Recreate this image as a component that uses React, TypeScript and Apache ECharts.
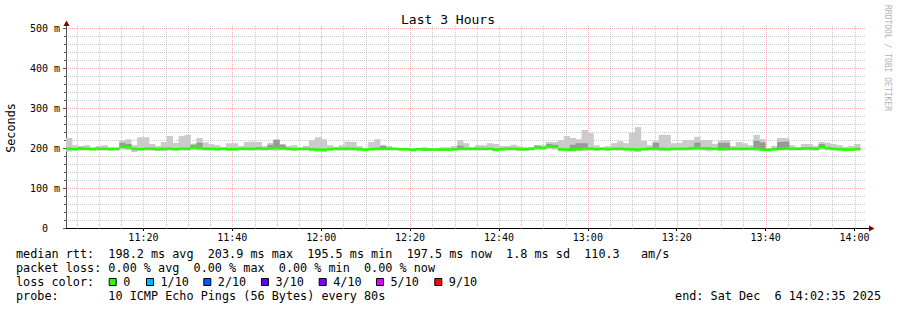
import React, { useEffect, useRef } from "react";
import * as echarts from "echarts";

const TITLE = "Last 3 Hours";
const Y_NAME = "Seconds";
const WATERMARK = "RRDTOOL / TOBI OETIKER";
const START_TIME = "11:02:35";
const SPAN_SEC = 3 * 3600;
const STEP_SEC = 80;
const X_LABELS = ["11:20", "11:40", "12:00", "12:20", "12:40", "13:00", "13:20", "13:40", "14:00"];
const X_MINOR = [
  "11:05", "11:10", "11:15", "11:25", "11:30", "11:35", "11:45", "11:50", "11:55",
  "12:05", "12:10", "12:15", "12:25", "12:30", "12:35", "12:45", "12:50", "12:55",
  "13:05", "13:10", "13:15", "13:25", "13:30", "13:35", "13:45", "13:50", "13:55",
];
const Y_MAX = 500;
const Y_STEP = 100;

// median RTT per 80 s step (ms)
const MEDIAN_MS = [
  198, 197, 198, 198, 197, 198, 198, 197, 198, 203,
  202, 198, 197, 198, 198, 197, 198, 198, 197, 198,
  198, 201, 200, 198, 198, 197, 198, 197, 197, 198,
  198, 198, 199, 198, 199, 200, 199, 198, 197, 198,
  198, 197, 196, 195.5, 197, 198, 198, 198, 198, 197,
  196, 197, 198, 198, 198, 198, 197, 197, 195.5, 197,
  196, 196, 196, 196, 196, 197, 198, 198, 198, 198,
  198, 198, 196, 197, 198, 198, 197, 197, 198, 201,
  200, 203.9, 203, 197, 196, 196, 197, 199, 198, 197,
  198, 197, 198, 198, 197, 197, 196, 197, 198, 199,
  198, 197, 198, 198, 198, 199, 200, 199, 199, 198,
  197, 198, 198, 198, 198, 198, 199, 196, 195.5, 197,
  198, 199, 198, 198, 199, 199, 198, 202, 200, 198,
  197, 196, 196, 197.5,
];
// lowest ping per step (ms)
const MIN_MS = [
  191, 194, 194, 194, 194, 194, 194, 194, 194, 196,
  195, 190, 194, 194, 194, 193, 192, 194, 194, 194,
  194, 196, 194, 194, 194, 194, 194, 193, 193, 194,
  194, 194, 194, 194, 194, 193, 194, 194, 194, 194,
  194, 192, 191, 190, 194, 194, 194, 194, 194, 193,
  192, 194, 194, 194, 194, 194, 194, 194, 191, 194,
  193, 193, 193, 193, 193, 194, 194, 194, 194, 194,
  194, 194, 191, 194, 194, 194, 193, 193, 194, 196,
  196, 197, 196, 192, 191, 191, 192, 192, 194, 194,
  194, 194, 194, 194, 194, 191, 190, 194, 194, 193,
  192, 192, 194, 194, 194, 194, 194, 194, 192, 194,
  193, 193, 194, 194, 194, 194, 192, 192, 192, 194,
  194, 194, 194, 194, 194, 194, 194, 196, 194, 194,
  194, 193, 193, 194,
];
// highest ping per step (ms)
const MAX_MS = [
  225, 207, 205, 207, 202, 205, 207, 202, 200, 219,
  222, 207, 227, 227, 210, 205, 215, 230, 213, 230,
  233, 211, 225, 214, 210, 207, 202, 212, 212, 205,
  215, 216, 215, 205, 213, 222, 210, 205, 207, 200,
  205, 220, 227, 222, 207, 203, 207, 216, 215, 205,
  200, 215, 222, 208, 205, 200, 200, 200, 200, 200,
  202, 200, 200, 202, 202, 205, 220, 212, 202, 207,
  207, 212, 210, 205, 205, 208, 205, 202, 202, 207,
  207, 215, 215, 220, 230, 225, 222, 245, 237, 207,
  202, 205, 212, 217, 212, 238, 252, 218, 207, 217,
  233, 233, 212, 213, 220, 220, 228, 220, 220, 210,
  218, 220, 205, 215, 212, 207, 233, 222, 200, 205,
  225, 225, 207, 202, 210, 210, 205, 215, 213, 210,
  207, 203, 205, 210,
];
// steps with a denser (darker) inner smoke band, and its top (ms)
const INNER_STEPS = [2, 9, 10, 21, 22, 34, 35, 36, 53, 66, 79, 81, 82, 85, 86, 87, 99, 106, 110, 111, 116, 117, 120, 121, 127];
const INNER_TOP_MS = [202, 213, 210, 208, 213, 208, 220, 208, 205, 206, 206, 210, 208, 208, 212, 212, 213, 214, 213, 213, 218, 214, 215, 216, 210];

const STATS_LINES = [
  "median rtt:  198.2 ms avg  203.9 ms max  195.5 ms min  197.5 ms now  1.8 ms sd  110.3   am/s",
  "packet loss: 0.00 % avg  0.00 % max  0.00 % min  0.00 % now",
];
const LOSS_TITLE = "loss color:";
const LOSS_LABELS = ["0", "1/10", "2/10", "3/10", "4/10", "5/10", "9/10"];
const LOSS_COLORS = ["#26ff00", "#00b8ff", "#0059ff", "#5e00ff", "#7e00ff", "#dd00ff", "#ff0000"];
const LOSS_BOX_X = [108.7, 146, 203.3, 261, 318.7, 376, 434.3];
const PROBE_LINE = "probe:       10 ICMP Echo Pings (56 Bytes) every 80s";
const END_LINE = "end: Sat Dec  6 14:02:35 2025";

const MONO = "'DejaVu Sans Mono', monospace";

function toSec(s: string) {
  const p = s.split(":").map(Number);
  return p[0] * 3600 + p[1] * 60 + (p[2] || 0);
}
function fmtTime(v: number) {
  const h = Math.floor(v / 3600);
  const m = Math.round((v - h * 3600) / 60);
  return `${h}:${String(m).padStart(2, "0")}`;
}

const MINOR_COLOR = "rgba(150,150,150,0.5)";
const MAJOR_COLOR = "rgba(235,100,100,0.5)";

export default function App() {
  const ref = useRef<HTMLDivElement>(null);
  useEffect(() => {
    if (!ref.current) return;
    const chart = echarts.init(ref.current, undefined, { renderer: "svg" });
    const start = toSec(START_TIME);
    const end = start + SPAN_SEC;

    const outerData = MAX_MS.map((hi, i) => [start + i * STEP_SEC, MIN_MS[i], hi]);
    const innerData = INNER_STEPS.map((s, k) => [start + s * STEP_SEC, MEDIAN_MS[s], INNER_TOP_MS[k]]);
    const medData = MEDIAN_MS.map((m, i) => [start + i * STEP_SEC, m]);

    const bandRender = (color: string) => (params: any, api: any) => {
      const t = api.value(0);
      const a = api.coord([t, api.value(2)]);
      const b = api.coord([t + STEP_SEC, api.value(1)]);
      return {
        type: "rect",
        shape: { x: a[0], y: a[1], width: b[0] - a[0] + 0.4, height: b[1] - a[1] },
        style: { fill: color },
      };
    };
    const medRender = (params: any, api: any) => {
      const t = api.value(0);
      const a = api.coord([t, api.value(1)]);
      const b = api.coord([t + STEP_SEC, api.value(1)]);
      return {
        type: "rect",
        shape: { x: a[0], y: a[1] - 1.3, width: b[0] - a[0] + 0.4, height: 2.6 },
        style: { fill: LOSS_COLORS[0] },
      };
    };
    // vertical dotted grid line: a column of 1px dots between the two y values
    const vGridRender = (color: string) => (params: any, api: any) => {
      const t = api.value(0);
      const top = api.coord([t, api.value(2)]);
      const bot = api.coord([t, api.value(1)]);
      const x = Math.round(top[0]);
      const children: any[] = [];
      for (let y = Math.round(top[1]) - 2; y < Math.round(bot[1]) + 2; y += 2) {
        children.push({ type: "rect", shape: { x, y, width: 1, height: 1 }, style: { fill: color } });
      }
      return { type: "group", children };
    };

    const legendY = [254, 268, 282, 296];
    const graphics: any[] = [
      { type: "text", x: 448, y: 19, style: { text: TITLE, fontFamily: MONO, fontSize: 13, fill: "#000", align: "center", verticalAlign: "middle" } },
      { type: "text", x: 11, y: 128, rotation: Math.PI / 2, style: { text: Y_NAME, fontFamily: MONO, fontSize: 11.8, fill: "#000", align: "center", verticalAlign: "middle" } },
      { type: "text", x: 887, y: 5, rotation: -Math.PI / 2, style: { text: WATERMARK, fontFamily: MONO, fontSize: 8, fill: "#b4b4b4", align: "left", verticalAlign: "middle" } },
      { type: "line", z: 10, shape: { x1: 66.5, y1: 28, x2: 66.5, y2: 24 }, style: { stroke: "#555", lineWidth: 1 } },
      { type: "line", z: 10, shape: { x1: 866, y1: 228.5, x2: 870, y2: 228.5 }, style: { stroke: "#000", lineWidth: 1 } },
      { type: "polygon", z: 10, shape: { points: [[63.5, 26], [69.5, 26], [66.5, 20.5]] }, style: { fill: "#800000" } },
      { type: "polygon", z: 10, shape: { points: [[869, 225.5], [869, 231.5], [874.5, 228.5]] }, style: { fill: "#800000" } },
      { type: "text", x: 16, y: legendY[0], style: { text: STATS_LINES[0], fontFamily: MONO, fontSize: 11.8, fill: "#000", verticalAlign: "middle" } },
      { type: "text", x: 16, y: legendY[1], style: { text: STATS_LINES[1], fontFamily: MONO, fontSize: 11.8, fill: "#000", verticalAlign: "middle" } },
      { type: "text", x: 16, y: legendY[2], style: { text: LOSS_TITLE, fontFamily: MONO, fontSize: 11.8, fill: "#000", verticalAlign: "middle" } },
      { type: "text", x: 16, y: legendY[3], style: { text: PROBE_LINE, fontFamily: MONO, fontSize: 11.8, fill: "#000", verticalAlign: "middle" } },
      { type: "text", x: 881, y: legendY[3], style: { text: END_LINE, fontFamily: MONO, fontSize: 11.8, fill: "#000", align: "right", verticalAlign: "middle" } },
    ];
    LOSS_LABELS.forEach((lab, i) => {
      graphics.push({
        type: "rect",
        shape: { x: LOSS_BOX_X[i] + 0.5, y: 278.5, width: 7, height: 7 },
        style: { fill: LOSS_COLORS[i], stroke: "#000", lineWidth: 1 },
      });
      graphics.push({
        type: "text",
        x: LOSS_BOX_X[i] + 14.5,
        y: legendY[2],
        style: { text: lab, fontFamily: MONO, fontSize: 11.8, fill: "#000", verticalAlign: "middle" },
      });
    });

    chart.setOption({
      animation: false,
      backgroundColor: "#fff",
      grid: { left: 66, right: 31, top: 28, bottom: 82, containLabel: false },
      xAxis: {
        type: "value",
        position: "bottom",
        min: start,
        max: end,
        axisLine: { show: true, onZero: false, lineStyle: { color: "#000", width: 1 } },
        axisTick: { show: true, length: 3, customValues: X_LABELS.map(toSec), lineStyle: { color: "#000" } },
        axisLabel: {
          show: true,
          customValues: X_LABELS.map(toSec),
          formatter: (v: number) => fmtTime(v),
          fontFamily: MONO,
          fontSize: 10,
          color: "#000",
          margin: 4,
        },
        splitLine: { show: false },
      },
      yAxis: {
        type: "value",
        min: 0,
        max: Y_MAX,
        interval: Y_STEP,
        axisLine: { show: true, lineStyle: { color: "#555", width: 1 } },
        axisTick: { show: true, length: 3, lineStyle: { color: "#555" } },
        minorTick: { show: true, splitNumber: 5, length: 2, lineStyle: { color: "#555" } },
        axisLabel: {
          formatter: (v: number) => (v === 0 ? "{z|0}" : `${v} m`),
          rich: { z: { padding: [0, 12, 0, 0], fontFamily: MONO, fontSize: 10 } },
          fontFamily: MONO,
          fontSize: 10,
          color: "#000",
          margin: 6,
        },
        splitLine: { show: true, lineStyle: { color: MAJOR_COLOR, type: [1, 1], width: 1 } },
        minorSplitLine: { show: true, lineStyle: { color: MINOR_COLOR, type: [1, 1], width: 1 } },
      },
      series: [
        { type: "custom", silent: true, z: 1, clip: false, data: X_MINOR.map((s) => [toSec(s), 0, Y_MAX]), encode: { x: 0, y: [1, 2] }, renderItem: vGridRender(MINOR_COLOR) },
        { type: "custom", silent: true, z: 1, clip: false, data: X_LABELS.map((s) => [toSec(s), 0, Y_MAX]), encode: { x: 0, y: [1, 2] }, renderItem: vGridRender(MAJOR_COLOR) },
        { type: "custom", silent: true, z: 2, data: outerData, encode: { x: 0, y: [1, 2] }, renderItem: bandRender("#cbcbcb") },
        { type: "custom", silent: true, z: 3, data: innerData, encode: { x: 0, y: [1, 2] }, renderItem: bandRender("#999999") },
        { type: "custom", silent: true, z: 4, data: medData, encode: { x: 0, y: 1 }, renderItem: medRender },
      ],
      graphic: { elements: graphics },
    });
    return () => chart.dispose();
  }, []);
  return <div ref={ref} style={{ position: "fixed", left: 0, top: 0, width: 897, height: 310, background: "#fff" }} />;
}
